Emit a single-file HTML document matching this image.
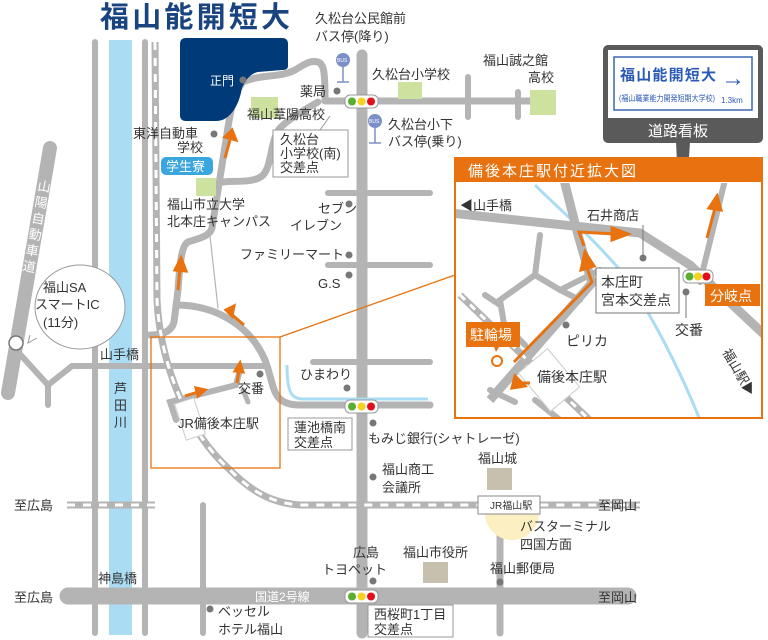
<!DOCTYPE html>
<html><head><meta charset="utf-8"><style>
html,body{margin:0;padding:0;background:#fff;}
svg{display:block;}
text{font-family:"Liberation Sans","Noto Sans CJK JP",sans-serif;fill:#333;font-size:13px;}
</style></head><body>
<svg width="768" height="640" viewBox="0 0 768 640" xmlns="http://www.w3.org/2000/svg">
<rect x="109" y="40" width="23" height="595" fill="#aadcf4"/>
<g stroke="#b4b4b4" fill="none" stroke-linecap="round">
<line x1="50" y1="148" x2="8" y2="393" stroke-width="14"/>
<line x1="95" y1="42" x2="95" y2="633" stroke-width="6"/>
<line x1="145" y1="42" x2="145" y2="633" stroke-width="6"/>
<line x1="362" y1="55" x2="362" y2="633" stroke-width="11"/>
<line x1="203" y1="505" x2="203" y2="633" stroke-width="6"/>
<line x1="500" y1="515" x2="500" y2="633" stroke-width="7"/>
<line x1="468" y1="77" x2="468" y2="117" stroke-width="6"/>
<line x1="518" y1="92" x2="518" y2="117" stroke-width="6"/>
<line x1="325" y1="101" x2="545" y2="101" stroke-width="7"/>
<line x1="328" y1="193" x2="430" y2="193" stroke-width="6"/>
<line x1="328" y1="265" x2="430" y2="265" stroke-width="6"/>
<line x1="313" y1="362" x2="430" y2="362" stroke-width="6"/>
<line x1="72" y1="366" x2="265" y2="366" stroke-width="6"/>
<polyline points="18,352 48,385 72,366" stroke-width="6"/>
<line x1="48" y1="385" x2="48" y2="405" stroke-width="6"/>
<line x1="68" y1="596" x2="628" y2="596" stroke-width="17"/>
<path d="M243,82 C260,74 280,78 295,70 C305,64 310,60 318,62 C324,64 325,72 325,100" stroke-width="7"/>
<path d="M243,82 C232,95 230,115 226,140 L212,228 C210,236 200,238 188,242 C182,245 180,260 178,290 L174,322 C172,330 165,335 150,335" stroke-width="7"/>
<path d="M224,182 C228,180 252,184 262,176 C272,168 270,140 280,128 C288,120 300,112 318,102" stroke-width="7"/>
<path d="M176,305 C215,305 250,325 265,360 C275,385 270,405 300,405 L430,405" stroke-width="7"/>
<line x1="210" y1="236" x2="218" y2="308" stroke-width="1.2"/>
<polyline points="176,420 170,402 236,385 240,370" stroke-width="6"/>
<line x1="243" y1="390" x2="248" y2="402" stroke-width="5"/>
</g>
<path d="M287,365 C287,395 292,399 305,399 L428,399" stroke="#aadcf4" stroke-width="3" fill="none"/>
<g fill="none">
<path d="M155,42 L157,300 C160,360 185,430 230,470 C250,490 270,503 300,505 L640,505" stroke="#b4b4b4" stroke-width="7"/>
<path d="M155,42 L157,300 C160,360 185,430 230,470 C250,490 270,503 300,505 L640,505" stroke="#fff" stroke-width="3" stroke-dasharray="8 8"/>
<line x1="67" y1="505" x2="155" y2="505" stroke="#b4b4b4" stroke-width="7"/>
<line x1="67" y1="505" x2="155" y2="505" stroke="#fff" stroke-width="3" stroke-dasharray="8 8"/>
</g>
<rect x="180" y="400" width="20" height="38" fill="#fff" stroke="#ccc" transform="rotate(-18 190 419)"/>
<g>
<text x="37" y="190" style="fill:#fff;font-size:13px" transform="rotate(10 37 190)">山</text>
<text x="34" y="206" style="fill:#fff;font-size:13px" transform="rotate(10 34 206)">陽</text>
<text x="31" y="222" style="fill:#fff;font-size:13px" transform="rotate(10 31 222)">自</text>
<text x="28" y="238" style="fill:#fff;font-size:13px" transform="rotate(10 28 238)">動</text>
<text x="25" y="254" style="fill:#fff;font-size:13px" transform="rotate(10 25 254)">車</text>
<text x="22" y="270" style="fill:#fff;font-size:13px" transform="rotate(10 22 270)">道</text>
</g>
<path d="M186,38 L282,38 Q288,38 288,44 L288,66 Q288,70 282,70 L258,72 Q248,74 242,88 Q238,110 226,118 Q222,121 215,121 L186,121 Q180,121 180,115 L180,44 Q180,38 186,38Z" fill="#003a78"/>
<text x="210" y="85" style="fill:#fff;font-size:12px">正門</text>
<circle cx="243" cy="80" r="3.5" fill="#777"/>
<text x="100" y="27" style="fill:#1a4480;font-size:29px;font-weight:bold" textLength="190" lengthAdjust="spacing">福山能開短大</text>
<rect x="251" y="97" width="27" height="21" fill="#cde29f"/>
<rect x="398" y="82" width="24" height="17" fill="#cde29f"/>
<rect x="530" y="90" width="26" height="25" fill="#cde29f"/>
<rect x="196" y="178" width="20" height="18" fill="#cde29f"/>
<rect x="487" y="468" width="25" height="22" fill="#c8c0ae"/>
<rect x="423" y="562" width="25" height="21" fill="#c8c0ae"/>
<path d="M485,513 A27,27 0 0 0 539,513Z" fill="#fcefc2"/>
<text x="315" y="23">久松台公民館前</text>
<text x="315" y="41">バス停(降り)</text>
<text x="300" y="96">薬局</text><circle cx="337" cy="91" r="3.5" fill="#777"/>
<text x="372" y="79">久松台小学校</text>
<text x="483" y="65">福山誠之館</text><text x="528" y="82">高校</text>
<text x="388" y="129">久松台小下</text><text x="388" y="146">バス停(乗り)</text>
<text x="247" y="119">福山葦陽高校</text>
<line x1="320" y1="130" x2="330" y2="116" stroke="#999"/>
<rect x="273" y="130" width="75" height="47" fill="#fff" stroke="#999"/>
<text x="280" y="144">久松台</text><text x="280" y="158">小学校(南)</text><text x="280" y="172">交差点</text>
<text x="133" y="138">東洋自動車</text><text x="177" y="152">学校</text><circle cx="214" cy="134" r="3.5" fill="#777"/>
<rect x="161" y="157" width="52" height="18" rx="5" fill="#3aa6de"/>
<text x="166" y="171" style="fill:#fff;font-size:13px">学生寮</text>
<text x="167" y="209">福山市立大学</text><text x="167" y="226">北本庄キャンパス</text>
<text x="318" y="213">セブン</text><text x="290" y="230">イレブン</text><circle cx="349" cy="204" r="3.5" fill="#777"/>
<text x="240" y="259">ファミリーマート</text><circle cx="349" cy="255" r="3.5" fill="#777"/>
<text x="318" y="288">G.S</text><circle cx="349" cy="275" r="3.5" fill="#777"/>
<text x="300" y="379">ひまわり</text><circle cx="347" cy="388" r="3.5" fill="#777"/>
<rect x="288" y="418" width="64" height="32" fill="#fff" stroke="#999"/>
<text x="294" y="432">蓮池橋南</text><text x="294" y="447">交差点</text>
<circle cx="373" cy="423" r="3.5" fill="#777"/><text x="368" y="443">もみじ銀行(シャトレーゼ)</text>
<circle cx="373" cy="477" r="3.5" fill="#777"/><text x="382" y="474">福山商工</text><text x="382" y="492">会議所</text>
<text x="478" y="463">福山城</text>
<rect x="478" y="496" width="62" height="18" fill="#fff" stroke="#888"/>
<text x="490" y="509" style="font-size:10px">JR福山駅</text>
<text x="520" y="531">バスターミナル</text><text x="520" y="549">四国方面</text>
<text x="403" y="557">福山市役所</text>
<text x="490" y="573">福山郵便局</text><circle cx="500" cy="582" r="3.5" fill="#777"/>
<text x="353" y="557">広島</text><text x="322" y="574">トヨペット</text><circle cx="373" cy="581" r="3.5" fill="#777"/>
<text x="255" y="601" style="fill:#fff;font-size:12px">国道2号線</text>
<rect x="368" y="605" width="85" height="32" fill="#fff" stroke="#999"/>
<text x="374" y="619">西桜町1丁目</text><text x="374" y="634">交差点</text>
<circle cx="210" cy="609" r="3.5" fill="#777"/><text x="218" y="616">ベッセル</text><text x="218" y="634">ホテル福山</text>
<text x="14" y="510">至広島</text><text x="14" y="602">至広島</text>
<text x="598" y="510">至岡山</text><text x="598" y="602">至岡山</text>
<text x="98" y="583">神島橋</text><text x="100" y="359">山手橋</text>
<text x="114" y="393">芦</text><text x="114" y="410">田</text><text x="114" y="427">川</text>
<text x="178" y="428">JR備後本庄駅</text>
<text x="238" y="393">交番</text><circle cx="260" cy="374" r="3.5" fill="#777"/>
<path d="M37,338 L28,343 L30,335" fill="#fff" stroke="#999"/>
<ellipse cx="80" cy="307" rx="45" ry="42" fill="#fff" stroke="#999"/>
<text x="43" y="292">福山SA</text><text x="35" y="309">スマートIC</text><text x="43" y="327">(11分)</text>
<circle cx="16" cy="343" r="7" fill="#fff" stroke="#777" stroke-width="1.5"/>
<g>
<circle cx="343" cy="60" r="7" fill="#7b90c8"/><text x="337" y="62" style="fill:#fff;font-size:5px">BUS</text>
<line x1="343" y1="67" x2="343" y2="82" stroke="#7b90c8" stroke-width="1.5"/><line x1="337" y1="82" x2="349" y2="82" stroke="#7b90c8" stroke-width="1.5"/>
<circle cx="375" cy="121" r="7" fill="#7b90c8"/><text x="369" y="123" style="fill:#fff;font-size:5px">BUS</text>
<line x1="375" y1="128" x2="375" y2="143" stroke="#7b90c8" stroke-width="1.5"/><line x1="369" y1="143" x2="381" y2="143" stroke="#7b90c8" stroke-width="1.5"/>
</g>
<g id="sig">
<rect x="345" y="95" width="33" height="13" rx="5" fill="#fff" stroke="#999"/>
<circle cx="352" cy="101.5" r="4" fill="#5aae32"/><circle cx="361.5" cy="101.5" r="4" fill="#f6d21e"/><circle cx="371" cy="101.5" r="4" fill="#e30e1a"/>
</g>
<use href="#sig" y="305"/><use href="#sig" y="495"/>
<g stroke="#e8720f" stroke-width="3" fill="#e8720f">
<line x1="225" y1="158" x2="230" y2="140"/><path d="M225,137 L236,140 L232,130Z"/>
<line x1="178" y1="290" x2="180" y2="268"/><path d="M175,270 L186,271 L181,258Z"/>
<path d="M232,316 L226,310 L234,306Z"/><line x1="244" y1="325" x2="230" y2="313"/>
<line x1="185" y1="396" x2="198" y2="392"/><path d="M196,388 L205,390 L198,396Z"/>
<line x1="237" y1="383" x2="239" y2="370"/><path d="M235,371 L243,372 L240,363Z"/>
</g>
<rect x="151" y="337" width="129" height="131" fill="none" stroke="#e8720f" stroke-width="1.3"/>
<line x1="280" y1="337" x2="455" y2="275" stroke="#e8720f" stroke-width="1.3"/>
<path d="M676,142 L690,142 L682,262Z" fill="#5a5a5a"/>
<rect x="603" y="45" width="160" height="98" rx="5" fill="#5a5a5a"/>
<rect x="608" y="50" width="150" height="68" fill="#fff"/>
<rect x="614" y="57" width="138" height="53" fill="#fff" stroke="#3a66b4" stroke-width="1.5"/>
<text x="620" y="80" style="fill:#2a5ab4;font-size:15px;font-weight:bold" textLength="96">福山能開短大</text>
<text x="721" y="86" style="fill:#2a5ab4;font-size:24px;font-weight:bold">→</text>
<text x="619" y="101" style="fill:#2a5ab4;font-size:8px" textLength="96" lengthAdjust="spacingAndGlyphs">(福山職業能力開発短期大学校)</text>
<text x="721" y="103" style="fill:#2a5ab4;font-size:8px">1.3km</text>
<text x="648" y="136" style="fill:#fff;font-size:15px">道路看板</text>
<rect x="455" y="158" width="307" height="260" fill="#fff" stroke="#e8720f" stroke-width="2"/>
<svg x="456" y="183" width="305" height="234" viewBox="456 183 305 234" overflow="hidden">
<path d="M535,185 C560,210 590,235 620,270 C650,310 680,370 700,420" stroke="#aadcf4" stroke-width="3" fill="none"/>
<g stroke="#b4b4b4" fill="none" stroke-width="6" stroke-linecap="round">
<polyline points="540,235 535,275 560,290 580,300"/>
<polyline points="535,275 500,300 505,330"/>
<polyline points="485,295 500,305"/>
<polyline points="510,330 525,345"/>
<polyline points="560,290 600,270"/>
<line x1="535" y1="400" x2="560" y2="420"/>
<line x1="515" y1="402" x2="490" y2="390"/>
<line x1="700" y1="282" x2="725" y2="180"/>
</g>
<g stroke="#b4b4b4" fill="none" stroke-width="9">
<polyline points="450,213 640,233 690,265 770,340"/>
<polyline points="564,180 578,235 592,283 490,400"/>
</g>
<path d="M460,295 L600,430" stroke="#b4b4b4" stroke-width="7"/>
<path d="M460,295 L600,430" stroke="#fff" stroke-width="3" stroke-dasharray="7 7"/>
<rect x="530" y="355" width="38" height="50" fill="#fff" stroke="#ccc" transform="rotate(-40 549 380)"/>
</svg>
<rect x="455" y="158" width="307" height="24" fill="#e8720f"/>
<text x="468" y="176" style="fill:#fff;font-size:15px;letter-spacing:2px">備後本庄駅付近拡大図</text>
<g stroke="#e8720f" stroke-width="3" fill="#e8720f">
<polyline points="514,362 592,282 587,268" fill="none"/>
<path d="M581,270 L594,266 L585,252Z"/>
<polyline points="584,246 579,232 615,234" fill="none"/>
<path d="M612,228 L628,234 L612,240Z"/>
<line x1="707" y1="238" x2="715" y2="208"/><path d="M709,208 L721,210 L717,196Z"/>
<path d="M525,386 L515,376 L512,388Z"/><polyline points="530,383 522,383 515,378" fill="none"/>
</g>
<text x="460" y="210">◀山手橋</text>
<text x="587" y="220">石井商店</text>
<line x1="643" y1="225" x2="643" y2="258" stroke="#777"/><circle cx="643" cy="258" r="3.5" fill="#777"/>
<rect x="596" y="268" width="83" height="45" fill="#fff" stroke="#777"/>
<text x="601" y="287" style="font-size:14px">本庄町</text><text x="601" y="305" style="font-size:14px">宮本交差点</text>
<rect x="683" y="270" width="30" height="13" rx="5" fill="#fff" stroke="#999"/>
<circle cx="689.5" cy="276.5" r="4" fill="#5aae32"/><circle cx="698" cy="276.5" r="4" fill="#f6d21e"/><circle cx="706.5" cy="276.5" r="4" fill="#e30e1a"/>
<rect x="705" y="284" width="55" height="22" fill="#e8720f"/>
<text x="710" y="301" style="fill:#fff;font-size:14px">分岐点</text>
<circle cx="686" cy="292" r="3.5" fill="#777"/><line x1="686" y1="292" x2="686" y2="318" stroke="#777"/>
<text x="675" y="335" style="font-size:14px">交番</text>
<circle cx="566" cy="325" r="3.5" fill="#777"/><text x="566" y="346" style="font-size:14px">ピリカ</text>
<rect x="466" y="322" width="54" height="25" fill="#e8720f"/>
<text x="470" y="340" style="fill:#fff;font-size:14px">駐輪場</text>
<path d="M494,347 L499,347 L496,352Z" fill="#e8720f"/>
<circle cx="497" cy="361" r="5" fill="#fff" stroke="#e8720f" stroke-width="2"/>
<text x="537" y="382" style="font-size:14px">備後本庄駅</text>
<text x="722" y="352" style="font-size:13px" transform="rotate(60 722 352)">福山駅▶</text>
</svg>
</body></html>
